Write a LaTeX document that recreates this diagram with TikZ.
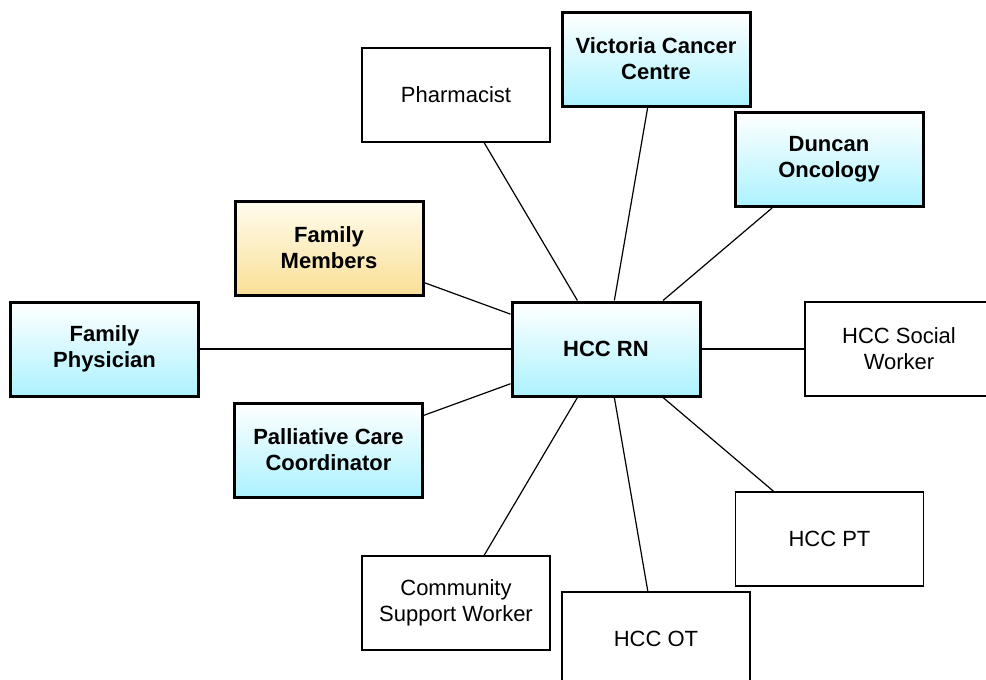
\documentclass[tikz,border=0pt]{standalone}
\usepackage{fontspec}
\setmainfont{Liberation Sans}
\usetikzlibrary{shadows}
\definecolor{cyanbot}{RGB}{172,242,255}
\definecolor{yelbot}{RGB}{250,224,150}
\definecolor{yeltop}{RGB}{255,252,238}
\tikzset{
  box/.style={rectangle, minimum width=188pt, minimum height=94pt, inner sep=0pt,
    align=center, font=\fontsize{22}{26}\selectfont},
  plainbox/.style={box, draw=black, line width=1.4pt, fill=white},
  keybox/.style={box, draw=black, line width=3pt, font=\fontsize{22}{26}\selectfont\bfseries,
    top color=white, bottom color=cyanbot,
    drop shadow={opacity=0.25, shadow xshift=1.5pt, shadow yshift=-1.5pt}},
  famboxstyle/.style={keybox, top color=yeltop, bottom color=yelbot},
  link/.style={draw=black, line width=1.2pt}
}
\begin{document}
\begin{tikzpicture}[x=1pt,y=-1pt]
\useasboundingbox (0,0) rectangle (986,680);
\clip (0,0) rectangle (986,680);
\node[keybox] (rn) at (606,349) {HCC RN};
\node[plainbox] (pharm) at (456,95) {Pharmacist};
\node[keybox] (vcc) at (656,59) {Victoria Cancer\\Centre};
\node[keybox] (duncan) at (829,159.5) {Duncan\\Oncology};
\node[famboxstyle] (fam) at (329,248) {Family\\Members};
\node[keybox] (phys) at (104.5,349) {Family\\Physician};
\node[keybox] (pcc) at (328.5,450) {Palliative Care\\Coordinator};
\node[plainbox] (sw) at (899,349) {HCC Social\\Worker};
\node[plainbox] (pt) at (829.5,539) {HCC PT};
\node[plainbox] (csw) at (456,603) {Community\\Support Worker};
\node[plainbox] (ot) at (656,639) {HCC OT};
\foreach \n in {pharm,vcc,duncan,fam,phys,pcc,sw,pt,csw,ot}
  \draw[link] (rn) -- (\n);
\end{tikzpicture}
\end{document}
